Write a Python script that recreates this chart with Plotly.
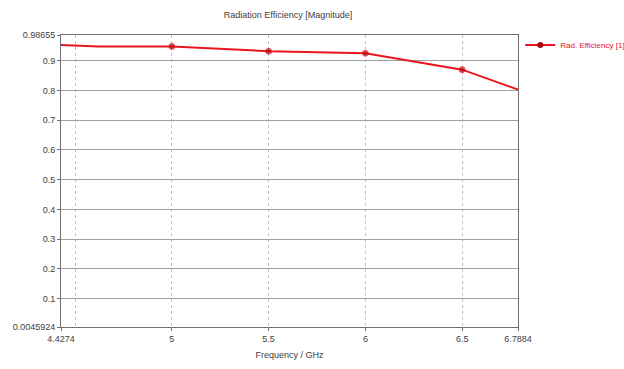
import plotly.graph_objects as go

# Data
freq = [4.4274, 4.62, 5.0, 5.5, 6.0, 6.5, 6.7884]
efficiency = [0.953, 0.948, 0.948, 0.932, 0.925, 0.870, 0.803]
marker_sizes = [0, 0, 6, 6, 6, 6, 0]

x_tickvals = [4.4274, 5, 5.5, 6, 6.5, 6.7884]
x_ticktext = ["4.4274", "5", "5.5", "6", "6.5", "6.7884"]
y_tickvals = [0.0045924, 0.1, 0.2, 0.3, 0.4, 0.5, 0.6, 0.7, 0.8, 0.9, 0.98655]
y_ticktext = ["0.0045924", "0.1", "0.2", "0.3", "0.4", "0.5", "0.6", "0.7", "0.8", "0.9", "0.98655"]

series_name = "Rad. Efficiency [1]"
line_color = "#e8141e"
marker_color = "#b0000a"
FONT = "Liberation Sans, Arial, sans-serif"

fig = go.Figure()
fig.add_trace(go.Scatter(
    x=freq, y=efficiency, mode="lines+markers",
    line=dict(color=line_color, width=2),
    marker=dict(size=marker_sizes, color=marker_color, symbol="circle"),
    showlegend=False, hoverinfo="x+y",
))
# legend entry
fig.add_trace(go.Scatter(
    x=[None], y=[None], mode="lines+markers", name=series_name,
    line=dict(color=line_color, width=2),
    marker=dict(size=6, color=marker_color),
))

fig.update_layout(
    width=624, height=369,
    margin=dict(l=61, r=106, t=35, b=42, autoexpand=False),
    paper_bgcolor="white", plot_bgcolor="white",
    font=dict(family=FONT, size=9, color="#404040"),
    title=dict(text="Radiation Efficiency [Magnitude]", x=288/624, xanchor="center",
               y=1 - 15/369, yanchor="middle", font=dict(size=9, color="#404040")),
    showlegend=True,
    legend=dict(x=1.005, xref="paper", y=1.015, yref="paper",
                xanchor="left", yanchor="top",
                font=dict(size=8, color="#e8141e", family=FONT),
                bgcolor="rgba(0,0,0,0)", itemwidth=30,
                tracegroupgap=0),
    xaxis=dict(
        range=[4.4274, 6.7884], tickmode="array", tickvals=x_tickvals, ticktext=x_ticktext,
        showgrid=True, gridcolor="#c0c0c0", griddash="dot", gridwidth=1,
        minor=dict(tickvals=[4.5], showgrid=True, gridcolor="#c0c0c0", griddash="dot", ticks=""),
        showline=True, linecolor="#707070", linewidth=1, mirror=True,
        ticks="outside", ticklen=3, tickcolor="#707070",
        zeroline=False, automargin=False,
        title=dict(text="Frequency / GHz", font=dict(size=9, color="#404040"), standoff=8),
    ),
    yaxis=dict(
        range=[0.0045924, 0.98655], tickmode="array", tickvals=y_tickvals, ticktext=y_ticktext,
        showgrid=True, gridcolor="#a0a0a0", gridwidth=1,
        showline=True, linecolor="#707070", linewidth=1, mirror=True,
        ticks="outside", ticklen=3, tickcolor="#707070",
        zeroline=False, automargin=False,
    ),
)

fig.write_html("out.html")
